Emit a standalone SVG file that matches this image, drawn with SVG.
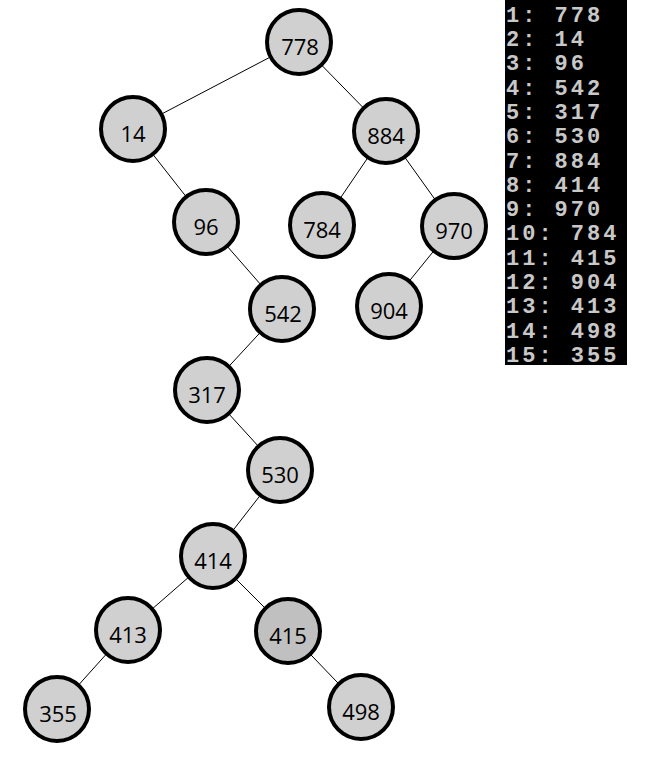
<svg xmlns="http://www.w3.org/2000/svg" width="651" height="766" viewBox="0 0 651 766">
<style>
.n circle{fill:#d0d0d0;stroke:#000;stroke-width:4}
.n text{font-family:"Open Sans","DejaVu Sans",sans-serif;font-size:22px;fill:#000;text-anchor:middle}
.e line{stroke:#000;stroke-width:1}
.log text{font-family:"Liberation Mono","DejaVu Sans Mono",monospace;font-weight:bold;font-size:22px;fill:#c8c8c8;letter-spacing:3px}
</style>
<rect width="651" height="766" fill="#fff"/>
<g id="connectors" class="e">
<line x1="299" y1="42" x2="133" y2="129"/>
<line x1="299" y1="42" x2="386" y2="131"/>
<line x1="133" y1="129" x2="206" y2="222"/>
<line x1="206" y1="222" x2="282" y2="309"/>
<line x1="386" y1="131" x2="322" y2="225"/>
<line x1="386" y1="131" x2="454" y2="226"/>
<line x1="454" y1="226" x2="389" y2="306"/>
<line x1="282" y1="309" x2="207" y2="390"/>
<line x1="207" y1="390" x2="280" y2="470"/>
<line x1="280" y1="470" x2="213" y2="556"/>
<line x1="213" y1="556" x2="128" y2="630"/>
<line x1="213" y1="556" x2="288" y2="631"/>
<line x1="128" y1="630" x2="57" y2="709"/>
<line x1="288" y1="631" x2="361" y2="707"/>
</g>
<g id="n778" class="n"><circle cx="299" cy="42" r="32"/><text x="300" y="55">778</text></g>
<g id="n14" class="n"><circle cx="133" cy="129" r="32"/><text x="133" y="142">14</text></g>
<g id="n884" class="n"><circle cx="386" cy="131" r="32"/><text x="386" y="144">884</text></g>
<g id="n96" class="n"><circle cx="206" cy="222" r="32"/><text x="206" y="235">96</text></g>
<g id="n784" class="n"><circle cx="322" cy="225" r="32"/><text x="322" y="238">784</text></g>
<g id="n970" class="n"><circle cx="454" cy="226" r="32"/><text x="454" y="239">970</text></g>
<g id="n542" class="n"><circle cx="282" cy="309" r="32"/><text x="283" y="322">542</text></g>
<g id="n904" class="n"><circle cx="389" cy="306" r="32"/><text x="389" y="319">904</text></g>
<g id="n317" class="n"><circle cx="207" cy="390" r="32"/><text x="207" y="403">317</text></g>
<g id="n530" class="n"><circle cx="280" cy="470" r="32"/><text x="280" y="483">530</text></g>
<g id="n414" class="n"><circle cx="213" cy="556" r="32"/><text x="213" y="569">414</text></g>
<g id="n413" class="n"><circle cx="128" cy="630" r="32"/><text x="128" y="643">413</text></g>
<g id="n415" class="n"><circle cx="288" cy="631" r="32" style="fill:#c0c0c0"/><text x="288" y="644">415</text></g>
<g id="n355" class="n"><circle cx="57" cy="709" r="32"/><text x="58" y="722">355</text></g>
<g id="n498" class="n"><circle cx="361" cy="707" r="32"/><text x="361" y="720">498</text></g>
<g id="log" class="log">
<rect x="505" y="0" width="122" height="365" fill="#000"/>
<text x="506" y="22">1: 778</text>
<text x="506" y="46">2: 14</text>
<text x="506" y="70">3: 96</text>
<text x="506" y="95">4: 542</text>
<text x="506" y="119">5: 317</text>
<text x="506" y="143">6: 530</text>
<text x="506" y="168">7: 884</text>
<text x="506" y="192">8: 414</text>
<text x="506" y="216">9: 970</text>
<text x="506" y="240">10: 784</text>
<text x="506" y="265">11: 415</text>
<text x="506" y="289">12: 904</text>
<text x="506" y="313">13: 413</text>
<text x="506" y="338">14: 498</text>
<text x="506" y="362">15: 355</text>
</g>
</svg>
